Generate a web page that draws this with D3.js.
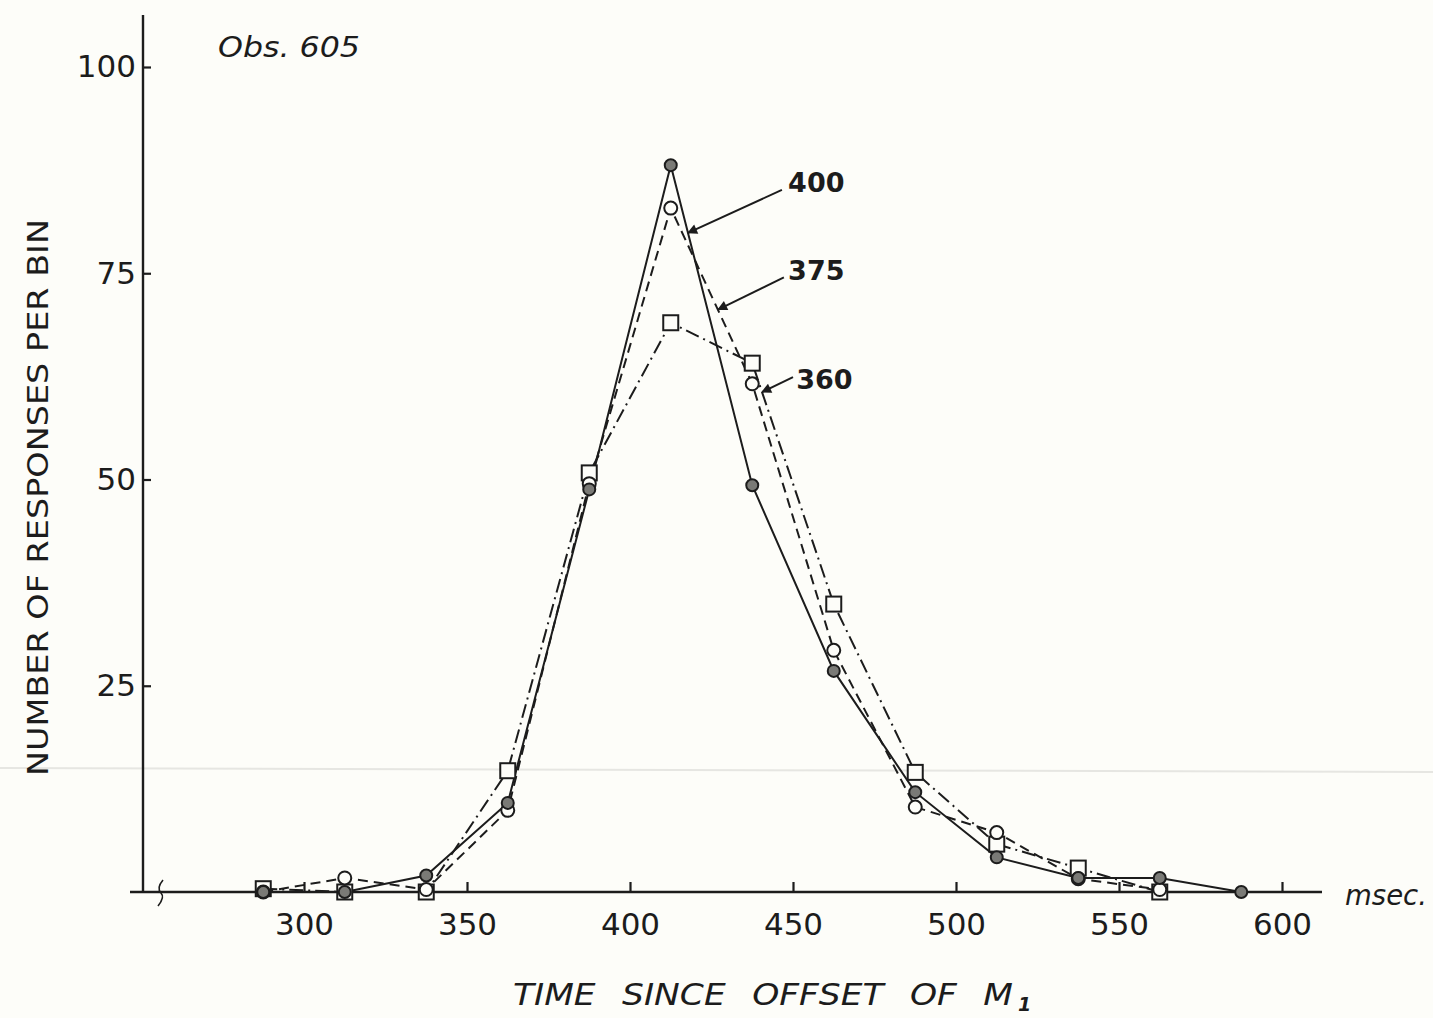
<!DOCTYPE html>
<html>
<head>
<meta charset="utf-8">
<script src="https://cdn.jsdelivr.net/npm/d3@7"></script>
<style>
  html, body { margin: 0; padding: 0; background: #fdfdf9; }
  svg { display: block; }
  text { fill: #1c1c1c; font-family: "DejaVu Sans", sans-serif; }
</style>
</head>
<body>
<svg id="chart" width="1433" height="1018"></svg>
<script>
// Bin centres (msec after offset of M1) and response counts per bin
const binCentres = [287.5, 312.5, 337.5, 362.5, 387.5, 412.5, 437.5, 462.5, 487.5, 512.5, 537.5, 562.5, 587.5];
const series400 = [0, 0, 2.0, 10.8, 48.8, 88.1, 49.3, 26.8, 12.1, 4.2, 1.7, 1.7, 0];
const series375 = [0, 1.7, 0.3, 9.9, 49.5, 82.9, 61.6, 29.3, 10.3, 7.2, 1.6, 0.3];
const series360 = [0.4, 0, 0, 14.7, 50.8, 69.0, 64.1, 34.9, 14.5, 5.8, 2.9, 0];

const xTicks = [300, 350, 400, 450, 500, 550, 600];
const yTicks = [25, 50, 75, 100];

// Curve labels with arrow tail/tip positions in data units
const curveLabels = ["400", "375", "360"];
const labelAt = [[448.5, 86.0], [448.5, 75.3], [451, 62.2]];
const arrowFrom = [[446.6, 85.1], [447.2, 74.5], [450.0, 62.4]];
const arrowTo = [[417.8, 79.9], [427.0, 70.6], [440.5, 60.6]];

const svg = d3.select("#chart");
const ink = "#1c1c1c";

const x = d3.scaleLinear().domain([300, 600]).range([304, 1282]);
const y = d3.scaleLinear().domain([0, 100]).range([892, 67]);

// faint horizontal crease across the sheet
svg.append("line")
  .attr("x1", 0).attr("x2", 1433).attr("y1", 768).attr("y2", 772)
  .attr("stroke", "#e6e6e2").attr("stroke-width", 2);

// arrow marker
svg.append("defs").append("marker")
  .attr("id", "arrow").attr("viewBox", "0 0 10 10")
  .attr("refX", 9).attr("refY", 5)
  .attr("markerWidth", 14).attr("markerHeight", 10)
  .attr("markerUnits", "userSpaceOnUse")
  .attr("orient", "auto")
  .append("path").attr("d", "M0,0 L10,5 L0,10 Z").attr("fill", ink);

// ---- axes ----
const gx = svg.append("g").attr("transform", `translate(0,${y(0)})`);
gx.call(d3.axisBottom(x).tickValues(xTicks).tickSize(0).tickPadding(20))
  .call(g => g.select(".domain").remove());
gx.selectAll(".tick text")
  .attr("font-size", 31).attr("fill", ink)
  .attr("font-family", "DejaVu Sans, sans-serif")
  .attr("dy", "0.75em");
gx.selectAll(".tick").append("line")
  .attr("y1", 0).attr("y2", -10)
  .attr("stroke", ink).attr("stroke-width", 2.2);
// baseline with small break near the origin
gx.append("line").attr("x1", 130).attr("x2", 1322).attr("y1", 0).attr("y2", 0)
  .attr("stroke", ink).attr("stroke-width", 2.6);
gx.append("path")
  .attr("d", "M163,-12 C158,-6 158,-2 161,1 C164,4 162,9 158,14")
  .attr("fill", "none").attr("stroke", ink).attr("stroke-width", 1.6);

const gy = svg.append("g").attr("transform", `translate(143,0)`);
gy.call(d3.axisLeft(y).tickValues(yTicks).tickSize(0).tickPadding(7))
  .call(g => g.select(".domain").remove());
gy.selectAll(".tick text")
  .attr("font-size", 31).attr("fill", ink)
  .attr("font-family", "DejaVu Sans, sans-serif");
gy.selectAll(".tick").append("line")
  .attr("x1", 0).attr("x2", 8)
  .attr("stroke", ink).attr("stroke-width", 2.2);
gy.append("line").attr("x1", 0).attr("x2", 0).attr("y1", 15).attr("y2", y(0))
  .attr("stroke", ink).attr("stroke-width", 2.4);

// ---- curves ----
const line = d3.line().x(d => x(d[0])).y(d => y(d[1]));
const pts = vals => vals.map((v, i) => [binCentres[i], v]);

svg.append("path").datum(pts(series360)).attr("d", line)
  .attr("fill", "none").attr("stroke", ink).attr("stroke-width", 2)
  .attr("stroke-dasharray", "14,5,2,5");
svg.append("path").datum(pts(series375)).attr("d", line)
  .attr("fill", "none").attr("stroke", ink).attr("stroke-width", 2)
  .attr("stroke-dasharray", "10,6");
svg.append("path").datum(pts(series400)).attr("d", line)
  .attr("fill", "none").attr("stroke", ink).attr("stroke-width", 2);

// markers: open squares (360), open circles (375), shaded circles (400)
svg.append("g").selectAll("rect").data(pts(series360)).join("rect")
  .attr("x", d => x(d[0]) - 7.5).attr("y", d => y(d[1]) - 7.5)
  .attr("width", 15).attr("height", 15)
  .attr("fill", "#fdfdf9").attr("stroke", ink).attr("stroke-width", 2);
svg.append("g").selectAll("circle").data(pts(series375)).join("circle")
  .attr("cx", d => x(d[0])).attr("cy", d => y(d[1])).attr("r", 6.5)
  .attr("fill", "#fdfdf9").attr("stroke", ink).attr("stroke-width", 2);
svg.append("g").selectAll("circle").data(pts(series400)).join("circle")
  .attr("cx", d => x(d[0])).attr("cy", d => y(d[1])).attr("r", 6)
  .attr("fill", "#7a7a76").attr("stroke", ink).attr("stroke-width", 2);

// ---- curve labels with arrows ----
const ann = svg.append("g");
curveLabels.forEach((t, i) => {
  ann.append("line")
    .attr("x1", x(arrowFrom[i][0])).attr("y1", y(arrowFrom[i][1]))
    .attr("x2", x(arrowTo[i][0])).attr("y2", y(arrowTo[i][1]))
    .attr("stroke", ink).attr("stroke-width", 2)
    .attr("marker-end", "url(#arrow)");
  ann.append("text")
    .attr("x", x(labelAt[i][0])).attr("y", y(labelAt[i][1]))
    .attr("dy", "0.36em")
    .attr("font-size", 27).attr("font-weight", "bold")
    .text(t);
});

// ---- titles ----
svg.append("text").attr("x", 218).attr("y", 57)
  .attr("font-size", 29).attr("font-style", "italic")
  .attr("textLength", 142).attr("lengthAdjust", "spacingAndGlyphs")
  .text("Obs. 605");

svg.append("text").attr("x", 1345).attr("y", 905)
  .attr("font-size", 28).attr("font-style", "italic")
  .attr("textLength", 82).attr("lengthAdjust", "spacingAndGlyphs")
  .text("msec.");

svg.append("text")
  .attr("transform", "translate(48,776) rotate(-90)")
  .attr("font-size", 29)
  .attr("textLength", 557).attr("lengthAdjust", "spacingAndGlyphs")
  .text("NUMBER OF RESPONSES PER BIN");

svg.append("text").attr("x", 513).attr("y", 1005)
  .attr("font-size", 31).attr("font-style", "italic")
  .attr("word-spacing", 14)
  .attr("textLength", 500).attr("lengthAdjust", "spacingAndGlyphs")
  .text("TIME SINCE OFFSET OF M");
svg.append("text").attr("x", 1018).attr("y", 1011)
  .attr("font-size", 19).attr("font-style", "italic").attr("font-weight", "bold")
  .text("1");
</script>
</body>
</html>
